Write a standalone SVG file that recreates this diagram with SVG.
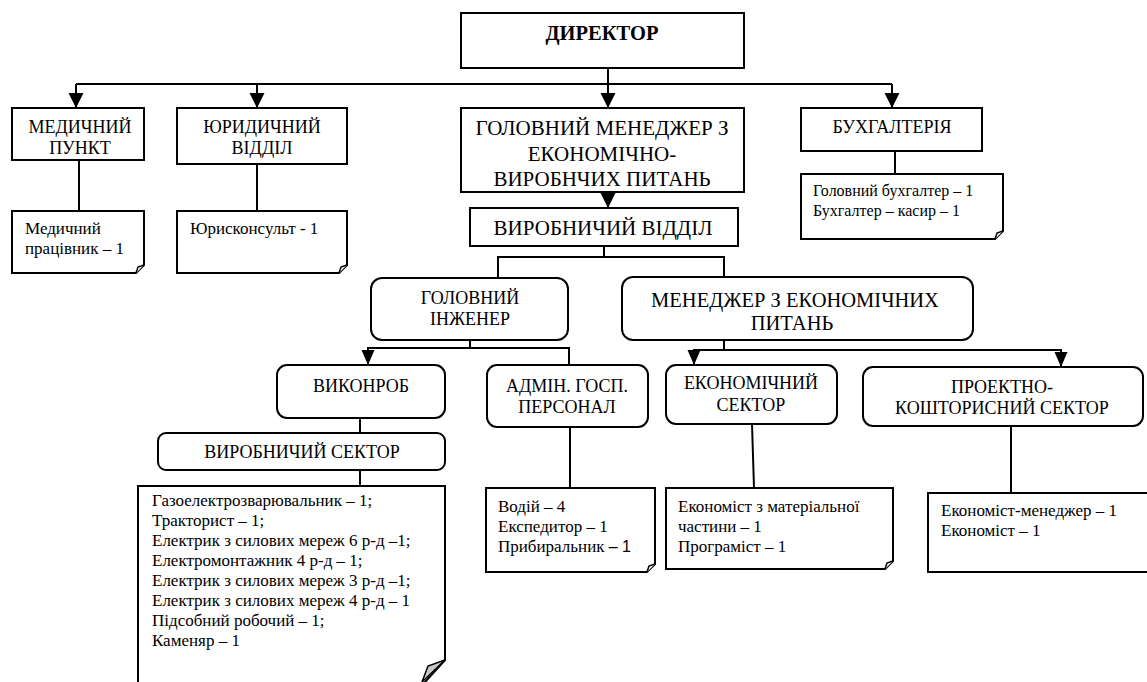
<svg xmlns="http://www.w3.org/2000/svg" width="1147" height="682" viewBox="0 0 1147 682">
<style>
.b{fill:#fff;stroke:#000;stroke-width:2}
.c{fill:none;stroke:#000;stroke-width:2}
text{font-family:"Liberation Serif","Tinos","Times New Roman","DejaVu Serif","Noto Serif",serif;fill:#000}
.h{font-size:18px;text-anchor:middle}
.H{font-size:21px;text-anchor:middle}
.n{font-size:17px}
.f{fill:#fff;stroke:#000;stroke-width:1.5}
</style>
<defs>
<marker id="a" markerUnits="userSpaceOnUse" markerWidth="16" markerHeight="16" refX="15" refY="7.5" orient="auto"><path d="M0,0 L15,7.5 L0,15 Z" fill="#000"/></marker>
<marker id="s" markerUnits="userSpaceOnUse" markerWidth="16" markerHeight="14" refX="15" refY="6.5" orient="auto"><path d="M0,0 L15,6.5 L0,13 Z" fill="#000"/></marker>
</defs>
<rect width="1147" height="682" fill="#fff"/>
<g id="connectors">
<path class="c" d="M76,84 H892"/>
<path class="c" d="M608,68 V108" marker-end="url(#a)"/>
<path class="c" d="M76,84 V108" marker-end="url(#a)"/>
<path class="c" d="M257,84 V108" marker-end="url(#a)"/>
<path class="c" d="M892,84 V108" marker-end="url(#a)"/>
<path class="c" d="M79,160 V211"/>
<path class="c" d="M257,164 V211"/>
<path class="c" d="M895,151 V174"/>
<path class="c" d="M608,192 V208" marker-end="url(#a)"/>
<path class="c" d="M604,246 V257 M498,277 V257 H724 V277"/>
<path class="c" d="M470,340 V348 H569 V365"/>
<path class="c" d="M470,348 H368 V365" marker-end="url(#s)"/>
<path class="c" d="M360,418 V433 M360,470 V486"/>
<path class="c" d="M570,427 V488"/>
<path class="c" d="M724,340 V350 H1061 V367" marker-end="url(#s)"/>
<path class="c" d="M724,350 H694 V365" marker-end="url(#s)"/>
<path class="c" d="M752,424 L754,488"/>
<path class="c" d="M1011,426 V493"/>
</g>
<g id="director"><rect class="b" x="461" y="13" width="283" height="55"/><text x="602" y="40" font-size="20.5" font-weight="bold" text-anchor="middle">ДИРЕКТОР</text></g>
<g id="med"><rect class="b" x="12" y="108" width="132" height="52"/><text class="h" x="80" y="133">МЕДИЧНИЙ</text><text class="h" x="80" y="154">ПУНКТ</text></g>
<g id="jur"><rect class="b" x="177" y="108" width="170" height="56"/><text class="h" x="262" y="133">ЮРИДИЧНИЙ</text><text class="h" x="262" y="154">ВІДДІЛ</text></g>
<g id="gm"><rect class="b" x="461" y="108" width="283" height="84"/><text class="H" x="602" y="135">ГОЛОВНИЙ МЕНЕДЖЕР З</text><text class="H" x="602" y="161">ЕКОНОМІЧНО-</text><text class="H" x="602" y="186">ВИРОБНЧИХ ПИТАНЬ</text></g>
<g id="buh"><rect class="b" x="801" y="108" width="181" height="43"/><text class="h" x="892" y="133">БУХГАЛТЕРІЯ</text></g>
<g id="med-note"><path class="b" d="M12,211 H144 V265 L136,273 H12 Z"/><path class="f" d="M144,265 L138,267 L136,273"/><text class="n" x="25" y="234">Медичний</text><text class="n" x="25" y="254">працівник – 1</text></g>
<g id="jur-note"><path class="b" d="M177,211 H347 V265 L339,273 H177 Z"/><path class="f" d="M347,265 L341,267 L339,273"/><text class="n" x="190" y="234">Юрисконсульт - 1</text></g>
<g id="buh-note"><path class="b" d="M801,174 H1003 V231 L995,239 H801 Z"/><path class="f" d="M1003,231 L997,233 L995,239"/><text x="813" y="196" font-size="16">Головний бухгалтер – 1</text><text x="813" y="216" font-size="16">Бухгалтер – касир – 1</text></g>
<g id="vv"><rect class="b" x="470" y="208" width="268" height="38"/><text class="H" x="603" y="235">ВИРОБНИЧИЙ ВІДДІЛ</text></g>
<g id="gi"><rect class="b" x="371" y="278" width="197" height="62" rx="11"/><text class="h" x="470" y="304">ГОЛОВНИЙ</text><text class="h" x="470" y="325">ІНЖЕНЕР</text></g>
<g id="mep"><rect class="b" x="622" y="277" width="351" height="63" rx="11"/><text x="795" y="307" font-size="20.5" text-anchor="middle">МЕНЕДЖЕР З ЕКОНОМІЧНИХ</text><text x="792" y="330" font-size="20.5" text-anchor="middle">ПИТАНЬ</text></g>
<g id="vykonrob"><rect class="b" x="277" y="365" width="168" height="53" rx="10"/><text class="h" x="361" y="392">ВИКОНРОБ</text></g>
<g id="admin"><rect class="b" x="487" y="365" width="161" height="62" rx="10"/><text class="h" x="567" y="392">АДМІН. ГОСП.</text><text class="h" x="567" y="413">ПЕРСОНАЛ</text></g>
<g id="es"><rect class="b" x="666" y="365" width="171" height="59" rx="10"/><text class="h" x="751" y="389">ЕКОНОМІЧНИЙ</text><text class="h" x="751" y="411">СЕКТОР</text></g>
<g id="pks"><rect class="b" x="863" y="367" width="280" height="59" rx="10"/><text class="h" x="1002" y="393">ПРОЕКТНО-</text><text class="h" x="1002" y="414">КОШТОРИСНИЙ СЕКТОР</text></g>
<g id="vs"><rect class="b" x="158" y="433" width="287" height="37" rx="8"/><text class="h" x="302" y="458">ВИРОБНИЧИЙ СЕКТОР</text></g>
<g id="vs-note"><path class="b" d="M138,690 V486 H445 V660 L416,692"/><path d="M445,660 L428,666 L422,682 Z" fill="#c8c8c8" stroke="#000" stroke-width="1.5"/>
<text class="n" x="152" y="506">Газоелектрозварювальник – 1;</text>
<text class="n" x="152" y="526">Тракторист – 1;</text>
<text class="n" x="152" y="546">Електрик з силових мереж 6 р-д –1;</text>
<text class="n" x="152" y="566">Електромонтажник 4 р-д – 1;</text>
<text class="n" x="152" y="586">Електрик з силових мереж 3 р-д –1;</text>
<text class="n" x="152" y="606">Електрик з силових мереж 4 р-д – 1</text>
<text class="n" x="152" y="626">Підсобний робочий – 1;</text>
<text class="n" x="152" y="646">Каменяр – 1</text></g>
<g id="admin-note"><path class="b" d="M486,488 H655 V564 L647,572 H486 Z"/><path class="f" d="M655,564 L649,566 L647,572"/><text class="n" x="498" y="512">Водій – 4</text><text class="n" x="498" y="532">Експедитор – 1</text><text class="n" x="498" y="552">Прибиральник <tspan style="font-family:'Liberation Sans',sans-serif" font-size="16">– 1</tspan></text></g>
<g id="es-note"><path class="b" d="M666,488 H893 V561 L885,569 H666 Z"/><path class="f" d="M893,561 L887,563 L885,569"/><text class="n" x="678" y="512">Економіст з матеріальної</text><text class="n" x="678" y="532">частини – 1</text><text class="n" x="678" y="552">Програміст – 1</text></g>
<g id="pks-note"><path class="b" d="M1150,493 H928 V572 H1150"/><text class="n" x="941" y="516">Економіст-менеджер – 1</text><text class="n" x="941" y="536">Економіст – 1</text></g>
</svg>
